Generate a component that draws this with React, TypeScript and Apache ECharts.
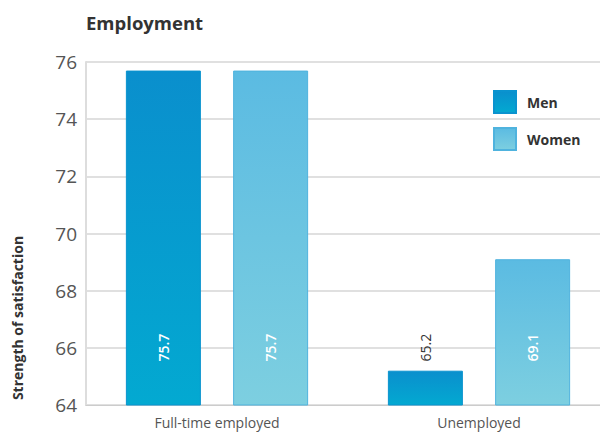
import React, { useEffect, useRef } from "react";
import * as echarts from "echarts";

const categories = ["Full-time employed", "Unemployed"];
const men = [75.7, 65.2];
const women = [75.7, 69.1];
const yTicks = [64, 66, 68, 70, 72, 74, 76];

export default function App() {
  const ref = useRef<HTMLDivElement>(null);
  useEffect(() => {
    const chart = echarts.init(ref.current!, null, { renderer: "svg" });
    const font = "'Open Sans', sans-serif";
    const menGrad = new echarts.graphic.LinearGradient(0, 0, 0, 1, [
      { offset: 0, color: "#0a8fcd" },
      { offset: 1, color: "#03a9d1" },
    ]);
    const womenGrad = new echarts.graphic.LinearGradient(0, 0, 0, 1, [
      { offset: 0, color: "#5bbbe2" },
      { offset: 1, color: "#7dcfe0" },
    ]);
    const labelBase = {
      show: true,
      position: "insideBottom",
      rotate: 90,
      align: "left",
      verticalAlign: "middle",
      distance: 44,
      color: "#ffffff",
      fontSize: 14,
      fontWeight: 600,
      fontFamily: font,
      formatter: (p: any) => String(p.value),
    };
    chart.setOption({
      animation: false,
      title: {
        text: "Employment",
        left: 81,
        top: 8,
        textStyle: { fontFamily: font, fontWeight: "bold", fontSize: 18.5, color: "#333" },
      },
      legend: {
        orient: "vertical",
        left: 488,
        top: 85,
        itemWidth: 22,
        itemHeight: 22,
        itemGap: 13,
        icon: "rect",
        textStyle: { fontFamily: font, fontWeight: "bold", fontSize: 14, color: "#333", padding: [0, 0, 0, 6] },
        data: ["Men", "Women"],
      },
      grid: { left: 86, top: 62, width: 524, height: 343, outerBoundsMode: "none", containLabel: false },
      xAxis: {
        type: "category",
        data: categories,
        axisLine: { lineStyle: { color: "#cccccc" } },
        axisTick: { show: false },
        axisLabel: { fontFamily: font, fontSize: 14, color: "#555", margin: 10 },
      },
      yAxis: {
        type: "value",
        min: yTicks[0],
        max: yTicks[yTicks.length - 1],
        interval: 2,
        axisLine: { show: true, lineStyle: { color: "#dddddd", width: 2 } },
        axisTick: { show: false },
        splitLine: { lineStyle: { color: "#e0e0e0", width: 2 } },
        axisLabel: { fontFamily: font, fontSize: 19, color: "#555", margin: 9 },
      },
      graphic: [
        {
          type: "text",
          x: 17,
          y: 318,
          rotation: Math.PI / 2,
          style: {
            text: "Strength of satisfaction",
            fontFamily: font,
            fontWeight: "bold",
            fontSize: 14,
            fill: "#333",
            align: "center",
            verticalAlign: "middle",
          },
        },
      ],
      series: [
        {
          name: "Men",
          type: "bar",
          barWidth: 75,
          barGap: "43%",
          data: men.map((v) => (v < 66 ? { value: v, label: { color: "#333", fontWeight: 400 } } : v)),
          itemStyle: { color: menGrad, borderColor: "#0a93cf", borderWidth: 1 },
          label: labelBase,
        },
        {
          name: "Women",
          type: "bar",
          barWidth: 75,
          barGap: "43%",
          data: women,
          itemStyle: { color: womenGrad, borderColor: "#4fb3de", borderWidth: 1 },
          label: labelBase,
        },
      ],
    });
    return () => chart.dispose();
  }, []);
  return <div ref={ref} style={{ width: 600, height: 432, position: "absolute", left: 0, top: 0 }} />;
}
